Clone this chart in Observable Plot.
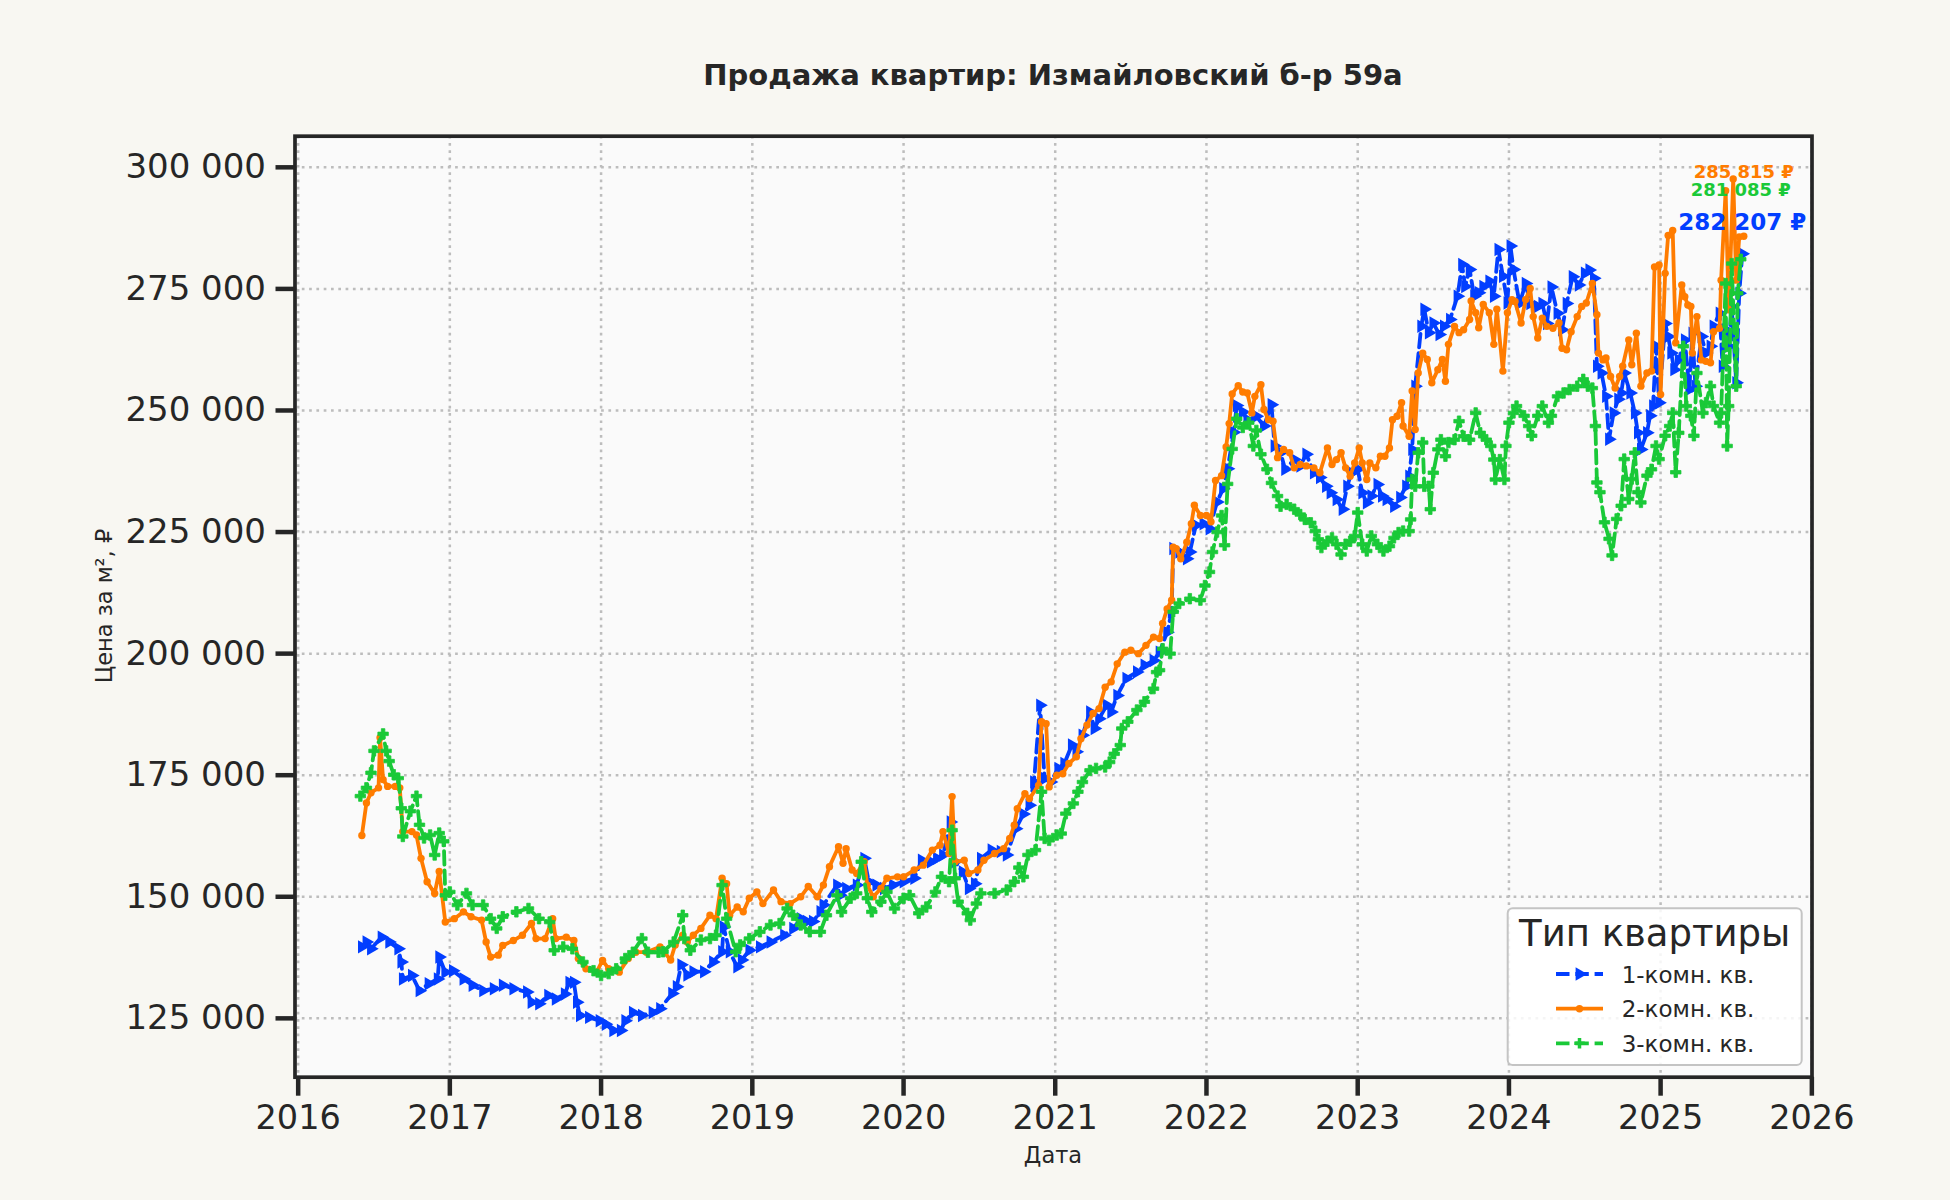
<!DOCTYPE html>
<html>
<head>
<meta charset="utf-8">
<script src="https://cdn.jsdelivr.net/npm/d3@7"></script>
<script src="https://cdn.jsdelivr.net/npm/@observablehq/plot@0.6"></script>
<style>
  html, body { margin: 0; padding: 0; background: #f8f7f2; }
  #wrap { position: relative; width: 1950px; height: 1200px; font-family: "DejaVu Sans", sans-serif; }
  #chart { position: absolute; left: 0; top: 0; }
  #overlay { position: absolute; left: 0; top: 0; pointer-events: none; }
</style>
</head>
<body>
<div id="wrap">
  <div id="chart"></div>
  <svg id="overlay" width="1950" height="1200"></svg>
</div>
<script>
// ---------- DATA (decimal year, price per m², ₽) ----------
const seriesNames = ["1-комн. кв.", "2-комн. кв.", "3-комн. кв."];
const seriesColors = ["#023eff", "#ff7c00", "#1ac938"];
const titleText = "Продажа квартир: Измайловский б-р 59а";
const yLabelText = "Цена за м², ₽";
const xLabelText = "Дата";
const legendTitle = "Тип квартиры";
const yearTicks = [2016, 2017, 2018, 2019, 2020, 2021, 2022, 2023, 2024, 2025, 2026];
const priceTicks = [125000, 150000, 175000, 200000, 225000, 250000, 275000, 300000];

const oneRoom = [
[2016.42,139700],[2016.45,140700],[2016.48,139300],[2016.55,141700],[2016.60,140700],[2016.66,139300],
[2016.68,136600],[2016.69,133100],[2016.75,133800],[2016.80,130700],[2016.86,132100],[2016.92,133100],
[2016.93,137600],[2016.97,134500],[2017.02,134800],[2017.09,133100],[2017.15,131800],[2017.22,130700],
[2017.29,131100],[2017.35,131800],[2017.42,131100],[2017.51,130400],[2017.54,128300],[2017.59,128000],
[2017.65,129700],[2017.70,129000],[2017.76,130000],[2017.79,132400],[2017.82,132400],[2017.84,128300],
[2017.86,125600],[2017.92,125200],[2017.99,124500],[2018.03,123800],[2018.08,122500],[2018.13,122500],
[2018.16,124500],[2018.21,126200],[2018.27,125600],[2018.34,126200],[2018.39,127000],[2018.47,130100],
[2018.50,131500],[2018.53,136000],[2018.57,133900],[2018.61,134600],[2018.68,134600],[2018.74,136600],
[2018.80,138700],[2018.81,143800],[2018.85,138700],[2018.90,135600],[2018.93,137000],[2018.98,139000],
[2019.05,139700],[2019.12,140700],[2019.21,142100],[2019.27,143500],[2019.32,145500],[2019.36,144900],
[2019.40,144900],[2019.45,146900],[2019.47,148300],[2019.56,152400],[2019.58,150300],[2019.62,151700],
[2019.69,152400],[2019.74,157900],[2019.77,153100],[2019.82,152400],[2019.87,151700],[2019.93,152400],
[2020.00,153100],[2020.07,153800],[2020.12,157500],[2020.18,157200],[2020.22,157900],[2020.26,158600],
[2020.31,165400],[2020.34,157200],[2020.39,155100],[2020.43,151700],[2020.47,152700],[2020.51,157900],
[2020.58,159600],[2020.64,159300],[2020.68,158600],[2020.74,164000],[2020.79,167000],[2020.83,168800],
[2020.86,173600],[2020.90,189400],[2020.93,174300],[2020.97,173600],[2021.02,176400],[2021.06,177400],
[2021.11,181200],[2021.14,179800],[2021.18,183200],[2021.23,188000],[2021.26,184600],[2021.29,186600],
[2021.34,189400],[2021.37,188000],[2021.41,191400],[2021.47,194900],[2021.54,196200],[2021.59,197600],
[2021.65,198600],[2021.69,200300],[2021.74,204400],[2021.77,208600],[2021.78,221600],[2021.82,220900],
[2021.87,219500],[2021.89,220900],[2021.93,226400],[2021.98,226700],[2022.02,225700],[2022.07,231200],
[2022.11,233900],[2022.14,238000],[2022.18,245500],[2022.20,251000],[2022.24,249700],[2022.27,248100],
[2022.33,248800],[2022.38,246800],[2022.43,251200],[2022.45,242700],[2022.49,241300],[2022.52,237900],
[2022.58,239900],[2022.62,238600],[2022.66,241000],[2022.71,237200],[2022.75,236200],[2022.79,234400],
[2022.82,233100],[2022.86,231700],[2022.90,229700],[2022.93,234400],[2022.96,237200],[2023.00,237900],
[2023.03,233100],[2023.06,231000],[2023.09,232400],[2023.13,234800],[2023.16,232400],[2023.19,231700],
[2023.24,230300],[2023.28,232100],[2023.32,234400],[2023.34,236500],[2023.36,242000],[2023.38,255000],
[2023.42,267300],[2023.44,270800],[2023.47,266000],[2023.50,268000],[2023.54,265600],[2023.57,267300],
[2023.61,268700],[2023.66,273500],[2023.69,280000],[2023.71,275500],[2023.74,279000],[2023.77,273500],
[2023.80,274200],[2023.83,275500],[2023.87,276600],[2023.90,273500],[2023.93,283100],[2023.96,277600],
[2023.99,272100],[2024.01,283800],[2024.03,279000],[2024.07,272000],[2024.11,276100],[2024.14,272000],
[2024.19,271400],[2024.22,272000],[2024.25,267900],[2024.28,275400],[2024.32,270000],[2024.35,266600],
[2024.38,272000],[2024.42,277500],[2024.46,275800],[2024.50,278200],[2024.53,278900],[2024.56,277200],
[2024.58,259100],[2024.61,257700],[2024.64,252900],[2024.66,244100],[2024.69,249500],[2024.72,252300],
[2024.74,253600],[2024.76,257700],[2024.80,253600],[2024.83,249500],[2024.85,245400],[2024.87,242000],
[2024.91,245400],[2024.93,248900],[2024.95,250900],[2024.97,263200],[2024.99,251600],[2025.03,267900],
[2025.05,265200],[2025.07,261800],[2025.09,258400],[2025.12,260400],[2025.16,264500],[2025.19,254300],
[2025.21,265900],[2025.23,255000],[2025.27,265200],[2025.30,261800],[2025.33,263200],[2025.35,267300],
[2025.39,270000],[2025.41,259100],[2025.43,266600],[2025.45,263200],[2025.47,271400],[2025.50,255700],
[2025.52,274100],[2025.54,282207]
];

const twoRoom = [
[2016.42,162600],[2016.45,169300],[2016.48,171400],[2016.53,172400],[2016.54,182700],[2016.56,174100],
[2016.59,172700],[2016.64,172700],[2016.67,172400],[2016.69,163400],[2016.75,163400],[2016.78,162700],
[2016.81,157900],[2016.85,153100],[2016.90,150700],[2016.93,155200],[2016.97,144800],[2017.03,145500],
[2017.09,146900],[2017.14,145900],[2017.21,145200],[2017.24,140700],[2017.27,137600],[2017.32,138000],
[2017.35,140000],[2017.42,141000],[2017.48,142100],[2017.54,144500],[2017.57,141400],[2017.63,141400],
[2017.68,145500],[2017.70,141400],[2017.77,141700],[2017.82,141000],[2017.85,137300],[2017.90,135200],
[2017.97,134500],[2018.01,136900],[2018.05,135200],[2018.12,134500],[2018.18,137300],[2018.23,138600],
[2018.30,138600],[2018.39,139700],[2018.46,137000],[2018.49,140100],[2018.54,142100],[2018.57,140700],
[2018.61,142100],[2018.66,143500],[2018.72,146200],[2018.76,145500],[2018.80,153800],[2018.83,152700],
[2018.85,146200],[2018.90,147900],[2018.94,146900],[2018.98,149700],[2019.03,151000],[2019.07,148600],
[2019.14,151400],[2019.19,149000],[2019.25,148600],[2019.32,150000],[2019.37,152100],[2019.43,150000],
[2019.47,152400],[2019.51,156200],[2019.57,160300],[2019.60,156900],[2019.62,159900],[2019.66,155500],
[2019.69,154800],[2019.74,157200],[2019.76,152400],[2019.80,150000],[2019.85,151700],[2019.89,153800],
[2019.96,154100],[2020.00,154100],[2020.07,155500],[2020.13,156500],[2020.19,159600],[2020.24,160600],
[2020.26,163400],[2020.30,158900],[2020.32,170600],[2020.34,157200],[2020.40,157500],[2020.43,154800],
[2020.49,155500],[2020.53,157500],[2020.60,158900],[2020.66,159900],[2020.70,162000],[2020.73,164700],
[2020.75,168100],[2020.80,171200],[2020.83,170200],[2020.89,172900],[2020.91,186000],[2020.94,185600],
[2020.96,172600],[2021.01,175000],[2021.05,175300],[2021.09,177400],[2021.14,178800],[2021.17,182500],
[2021.21,185300],[2021.25,187700],[2021.29,188700],[2021.33,193100],[2021.37,194200],[2021.41,197900],
[2021.46,200300],[2021.50,200700],[2021.55,200000],[2021.60,201700],[2021.65,203400],[2021.69,203100],
[2021.71,206200],[2021.74,209200],[2021.77,211000],[2021.78,221900],[2021.80,221600],[2021.83,219500],
[2021.87,222900],[2021.90,226700],[2021.92,230500],[2021.96,228400],[2022.00,228400],[2022.03,227100],
[2022.06,235600],[2022.10,236600],[2022.13,242500],[2022.15,247300],[2022.17,253400],[2022.21,255100],
[2022.24,253800],[2022.27,253600],[2022.30,249500],[2022.32,252900],[2022.36,255300],[2022.38,250200],
[2022.41,248100],[2022.44,247800],[2022.47,240300],[2022.51,242000],[2022.55,241300],[2022.58,238200],
[2022.62,238900],[2022.66,238600],[2022.71,238200],[2022.75,237200],[2022.80,242300],[2022.83,238900],
[2022.86,239900],[2022.89,241300],[2022.92,238200],[2022.95,236500],[2022.98,239200],[2023.01,242300],
[2023.03,239200],[2023.06,235800],[2023.08,239200],[2023.12,238200],[2023.15,240600],[2023.18,240600],
[2023.21,242300],[2023.23,248100],[2023.26,248800],[2023.29,251600],[2023.30,246800],[2023.34,244700],
[2023.36,254000],[2023.38,246100],[2023.40,257700],[2023.43,261800],[2023.46,260500],[2023.49,255700],
[2023.53,258400],[2023.56,260500],[2023.58,256000],[2023.60,263600],[2023.64,267300],[2023.67,266000],
[2023.70,266600],[2023.74,268700],[2023.75,272500],[2023.78,270100],[2023.80,267000],[2023.83,271800],
[2023.87,270100],[2023.90,263600],[2023.92,270800],[2023.96,258100],[2023.99,270100],[2024.02,272800],
[2024.04,272400],[2024.08,268000],[2024.11,272800],[2024.14,275100],[2024.16,269300],[2024.19,264900],
[2024.22,269000],[2024.25,267300],[2024.29,266900],[2024.33,268000],[2024.35,262800],[2024.38,262500],
[2024.41,266200],[2024.45,269300],[2024.48,271400],[2024.51,272100],[2024.55,276100],[2024.58,269700],
[2024.59,261800],[2024.62,260400],[2024.64,260800],[2024.67,257000],[2024.70,254600],[2024.73,257000],
[2024.75,259100],[2024.79,264500],[2024.81,259400],[2024.84,265900],[2024.87,255000],[2024.91,257700],
[2024.94,258100],[2024.96,279500],[2024.99,279900],[2025.00,253300],[2025.03,278200],[2025.05,286000],
[2025.08,287000],[2025.10,263900],[2025.14,275800],[2025.16,273400],[2025.18,271700],[2025.20,271400],
[2025.21,261800],[2025.24,269300],[2025.27,260400],[2025.30,260100],[2025.33,259800],[2025.35,266200],
[2025.39,266900],[2025.40,276800],[2025.43,295200],[2025.45,270700],[2025.46,278900],[2025.48,297600],
[2025.50,276800],[2025.52,285700],[2025.55,285815]
];

const threeRoom = [
[2016.41,170700],[2016.45,172400],[2016.48,175500],[2016.50,180000],[2016.56,183500],[2016.58,180000],
[2016.60,177900],[2016.63,175100],[2016.66,174400],[2016.68,168200],[2016.69,162400],[2016.74,167600],
[2016.78,170700],[2016.80,164800],[2016.83,162100],[2016.87,162700],[2016.90,158600],[2016.93,163100],
[2016.96,161400],[2016.97,150300],[2017.00,151000],[2017.05,148300],[2017.11,150700],[2017.15,148300],
[2017.22,148300],[2017.27,145500],[2017.31,143500],[2017.35,145900],[2017.44,146900],[2017.52,147600],
[2017.59,145500],[2017.66,144800],[2017.69,139000],[2017.75,139700],[2017.81,139300],[2017.88,136600],
[2017.95,134800],[2018.00,133800],[2018.05,134200],[2018.10,135200],[2018.16,137300],[2018.21,138600],
[2018.27,141400],[2018.31,138600],[2018.38,138600],[2018.41,138700],[2018.48,140700],[2018.54,146200],
[2018.55,141400],[2018.59,139000],[2018.66,141100],[2018.72,141400],[2018.76,142100],[2018.80,152400],
[2018.83,145500],[2018.89,138700],[2018.92,140100],[2018.98,141400],[2019.05,142800],[2019.12,144200],
[2019.18,144500],[2019.23,147600],[2019.27,146200],[2019.32,144200],[2019.38,142800],[2019.45,142800],
[2019.49,146200],[2019.56,150300],[2019.59,146900],[2019.65,149700],[2019.69,150700],[2019.72,157200],
[2019.76,149700],[2019.79,146900],[2019.85,149000],[2019.89,151000],[2019.94,147600],[2020.00,149700],
[2020.04,150300],[2020.10,146600],[2020.15,147900],[2020.21,151000],[2020.25,154100],[2020.30,153100],
[2020.32,163700],[2020.34,153800],[2020.36,149000],[2020.42,146600],[2020.44,145200],[2020.48,148600],
[2020.51,150700],[2020.60,150700],[2020.68,151400],[2020.73,153100],[2020.76,156000],[2020.79,154100],
[2020.82,158600],[2020.87,159600],[2020.91,171600],[2020.93,162000],[2020.96,161600],[2021.01,162700],
[2021.04,163000],[2021.07,167100],[2021.12,169200],[2021.15,171600],[2021.18,173600],[2021.23,176000],
[2021.27,176400],[2021.33,176700],[2021.36,177700],[2021.39,179400],[2021.43,181200],[2021.44,184600],
[2021.48,186000],[2021.54,188400],[2021.59,190100],[2021.65,192800],[2021.67,196200],[2021.69,196600],
[2021.71,201000],[2021.76,200000],[2021.78,208600],[2021.82,210300],[2021.89,211300],[2021.96,211000],
[2021.99,214000],[2022.02,216800],[2022.04,220900],[2022.07,225000],[2022.10,228400],[2022.12,222300],
[2022.14,234900],[2022.17,242100],[2022.20,248300],[2022.24,246500],[2022.28,247500],[2022.31,242700],
[2022.33,245900],[2022.36,241000],[2022.40,237900],[2022.43,235100],[2022.47,232400],[2022.49,230300],
[2022.53,230700],[2022.58,229700],[2022.62,228600],[2022.65,227600],[2022.69,226900],[2022.72,225200],
[2022.74,223500],[2022.76,221800],[2022.80,223100],[2022.83,223800],[2022.86,222500],[2022.89,220400],
[2022.92,222500],[2022.95,223100],[2022.98,224200],[2023.00,229000],[2023.03,222500],[2023.06,221100],
[2023.09,224200],[2023.13,222500],[2023.17,221100],[2023.21,222100],[2023.24,223800],[2023.27,224900],
[2023.30,225200],[2023.34,225200],[2023.35,227600],[2023.36,235800],[2023.38,234400],[2023.40,241300],
[2023.43,243400],[2023.44,234400],[2023.47,234400],[2023.48,229700],[2023.50,237200],[2023.53,242000],
[2023.55,244000],[2023.58,240600],[2023.60,243400],[2023.64,244000],[2023.67,247800],[2023.70,244700],
[2023.74,244000],[2023.78,249500],[2023.81,245400],[2023.85,244000],[2023.88,242700],[2023.90,239900],
[2023.91,235800],[2023.94,239900],[2023.97,235800],[2023.98,242700],[2024.00,247500],[2024.03,249500],
[2024.05,250900],[2024.10,248900],[2024.13,246800],[2024.15,244800],[2024.19,248900],[2024.22,250900],
[2024.26,247500],[2024.28,248900],[2024.32,252900],[2024.36,253600],[2024.40,254300],[2024.45,255000],
[2024.49,256400],[2024.52,255000],[2024.55,254600],[2024.57,246800],[2024.58,235200],[2024.60,233200],
[2024.63,227000],[2024.66,223600],[2024.68,220200],[2024.71,227700],[2024.74,230400],[2024.76,240000],
[2024.79,231800],[2024.81,235900],[2024.83,241300],[2024.85,233200],[2024.87,231100],[2024.91,236600],
[2024.94,237900],[2024.97,242700],[2024.99,240000],[2025.03,244800],[2025.06,246800],[2025.08,249500],
[2025.10,237300],[2025.12,245400],[2025.15,263200],[2025.17,250900],[2025.20,248900],[2025.22,244800],
[2025.24,257700],[2025.28,249500],[2025.30,251600],[2025.33,255000],[2025.35,250900],[2025.39,247500],
[2025.40,249500],[2025.43,276100],[2025.44,242700],[2025.45,250900],[2025.47,280200],[2025.50,255000],
[2025.51,274100],[2025.53,281085]
];

// ---------- helpers ----------
function toDate(y) {
  const yr = Math.floor(y);
  const s = Date.UTC(yr, 0, 1), e = Date.UTC(yr + 1, 0, 1);
  return new Date(s + (y - yr) * (e - s));
}
const fmtNum = v => d3.format(",")(v).replace(/,/g, " ");
const toRows = (arr, name) => arr.map(([t, v]) => ({date: toDate(t), value: v, name}));

const rows1 = toRows(oneRoom, seriesNames[0]);
const rows2 = toRows(twoRoom, seriesNames[1]);
const rows3 = toRows(threeRoom, seriesNames[2]);
const last1 = [rows1[rows1.length - 1]];
const last2 = [rows2[rows2.length - 1]];
const last3 = [rows3[rows3.length - 1]];

const xTicks = yearTicks.map(y => new Date(Date.UTC(y, 0, 1)));
const gridStyle = {stroke: "#bdbdbd", strokeOpacity: 1, strokeWidth: 2.5, strokeDasharray: "2.7,4.6"};
const lineW = 3.8;
const dash = "13.5,5.8";
const rTri = 5.0, rCirc = 3.7, rCross = 4.4;

const chart = Plot.plot({
  width: 1950,
  height: 1200,
  marginLeft: 294.5,
  marginRight: 138.5,
  marginTop: 135.7,
  marginBottom: 123.3,
  x: {type: "utc", domain: [toDate(2015.979), toDate(2026.001)]},
  y: {domain: [112900, 306400]},
  style: {fontFamily: "DejaVu Sans", background: "transparent", color: "#262626", overflow: "visible"},
  marks: [
    Plot.frame({fill: "#fafafa"}),
    Plot.gridX(xTicks, gridStyle),
    Plot.gridY(priceTicks, gridStyle),

    Plot.line(rows1, {x: "date", y: "value", stroke: seriesColors[0], strokeWidth: lineW, strokeDasharray: dash, strokeLinejoin: "round"}),
    Plot.dot(rows1, {x: "date", y: "value", symbol: "triangle", rotate: 90, r: rTri, fill: seriesColors[0], stroke: "none"}),

    Plot.line(rows2, {x: "date", y: "value", stroke: seriesColors[1], strokeWidth: lineW, strokeLinejoin: "round"}),
    Plot.dot(rows2, {x: "date", y: "value", symbol: "circle", r: rCirc, fill: seriesColors[1], stroke: "none"}),

    Plot.line(rows3, {x: "date", y: "value", stroke: seriesColors[2], strokeWidth: lineW, strokeDasharray: dash, strokeLinejoin: "round"}),
    Plot.dot(rows3, {x: "date", y: "value", symbol: "cross", r: rCross, fill: seriesColors[2], stroke: seriesColors[2], strokeWidth: 0.8}),

    Plot.text(last2, {x: "date", y: "value", text: d => fmtNum(d.value) + " ₽", fill: seriesColors[1], fontSize: 18, fontWeight: "bold", textAnchor: "middle", dy: -64}),
    Plot.text(last3, {x: "date", y: "value", text: d => fmtNum(d.value) + " ₽", fill: seriesColors[2], fontSize: 18, fontWeight: "bold", textAnchor: "middle", dy: -69.5}),
    Plot.text(last1, {x: "date", y: "value", text: d => fmtNum(d.value) + " ₽", fill: seriesColors[0], fontSize: 23, fontWeight: "bold", textAnchor: "middle", dy: -31.5}),

    Plot.frame({stroke: "#262626", strokeWidth: 3.7}),
    Plot.axisX({ticks: xTicks, tickFormat: d3.utcFormat("%Y"), tickSize: 19, tickPadding: 9, fontSize: 33.5, strokeWidth: 4.5, label: null, color: "#262626"}),
    Plot.axisY({ticks: priceTicks, tickFormat: fmtNum, tickSize: 19, tickPadding: 10, fontSize: 34, strokeWidth: 4.5, label: null, color: "#262626"})
  ]
});
document.getElementById("chart").appendChild(chart);

// ---------- title, axis labels, legend (text overlay) ----------
const ov = d3.select("#overlay");
ov.append("text").attr("x", 1053).attr("y", 85).attr("text-anchor", "middle")
  .attr("font-family", "DejaVu Sans").attr("font-weight", "bold").attr("font-size", 29)
  .attr("fill", "#262626").text(titleText);
ov.append("text").attr("transform", "translate(104,606) rotate(-90)").attr("text-anchor", "middle")
  .attr("dominant-baseline", "central").attr("font-family", "DejaVu Sans").attr("font-size", 22.5)
  .attr("fill", "#262626").text(yLabelText);
ov.append("text").attr("x", 1053).attr("y", 1155).attr("text-anchor", "middle")
  .attr("dominant-baseline", "central").attr("font-family", "DejaVu Sans").attr("font-size", 22.5)
  .attr("fill", "#262626").text(xLabelText);

const lg = ov.append("g");
lg.append("rect").attr("x", 1507.7).attr("y", 908.3).attr("width", 294).attr("height", 156.7)
  .attr("rx", 5).attr("fill", "#ffffff").attr("fill-opacity", 0.85).attr("stroke", "#c4c4c4").attr("stroke-width", 2);
lg.append("text").attr("x", 1654.7).attr("y", 946).attr("text-anchor", "middle")
  .attr("font-family", "DejaVu Sans").attr("font-size", 37).attr("fill", "#262626").text(legendTitle);
const rowsY = [974, 1008.7, 1043.3];
const symbols = [d3.symbolTriangle, d3.symbolCircle, d3.symbolCross];
const symSize = [Math.PI * rTri * rTri, Math.PI * rCirc * rCirc, Math.PI * rCross * rCross];
const rot = [90, 0, 0];
seriesNames.forEach((name, i) => {
  const y = rowsY[i];
  lg.append("line").attr("x1", 1556).attr("x2", 1603).attr("y1", y).attr("y2", y)
    .attr("stroke", seriesColors[i]).attr("stroke-width", lineW)
    .attr("stroke-dasharray", i === 1 ? null : dash);
  lg.append("path").attr("d", d3.symbol(symbols[i], symSize[i])())
    .attr("transform", `translate(1579.5,${y}) rotate(${rot[i]})`).attr("fill", seriesColors[i]);
  lg.append("text").attr("x", 1621.7).attr("y", y + 8.6).attr("font-family", "DejaVu Sans")
    .attr("font-size", 23).attr("fill", "#262626").text(name);
});
</script>
</body>
</html>
